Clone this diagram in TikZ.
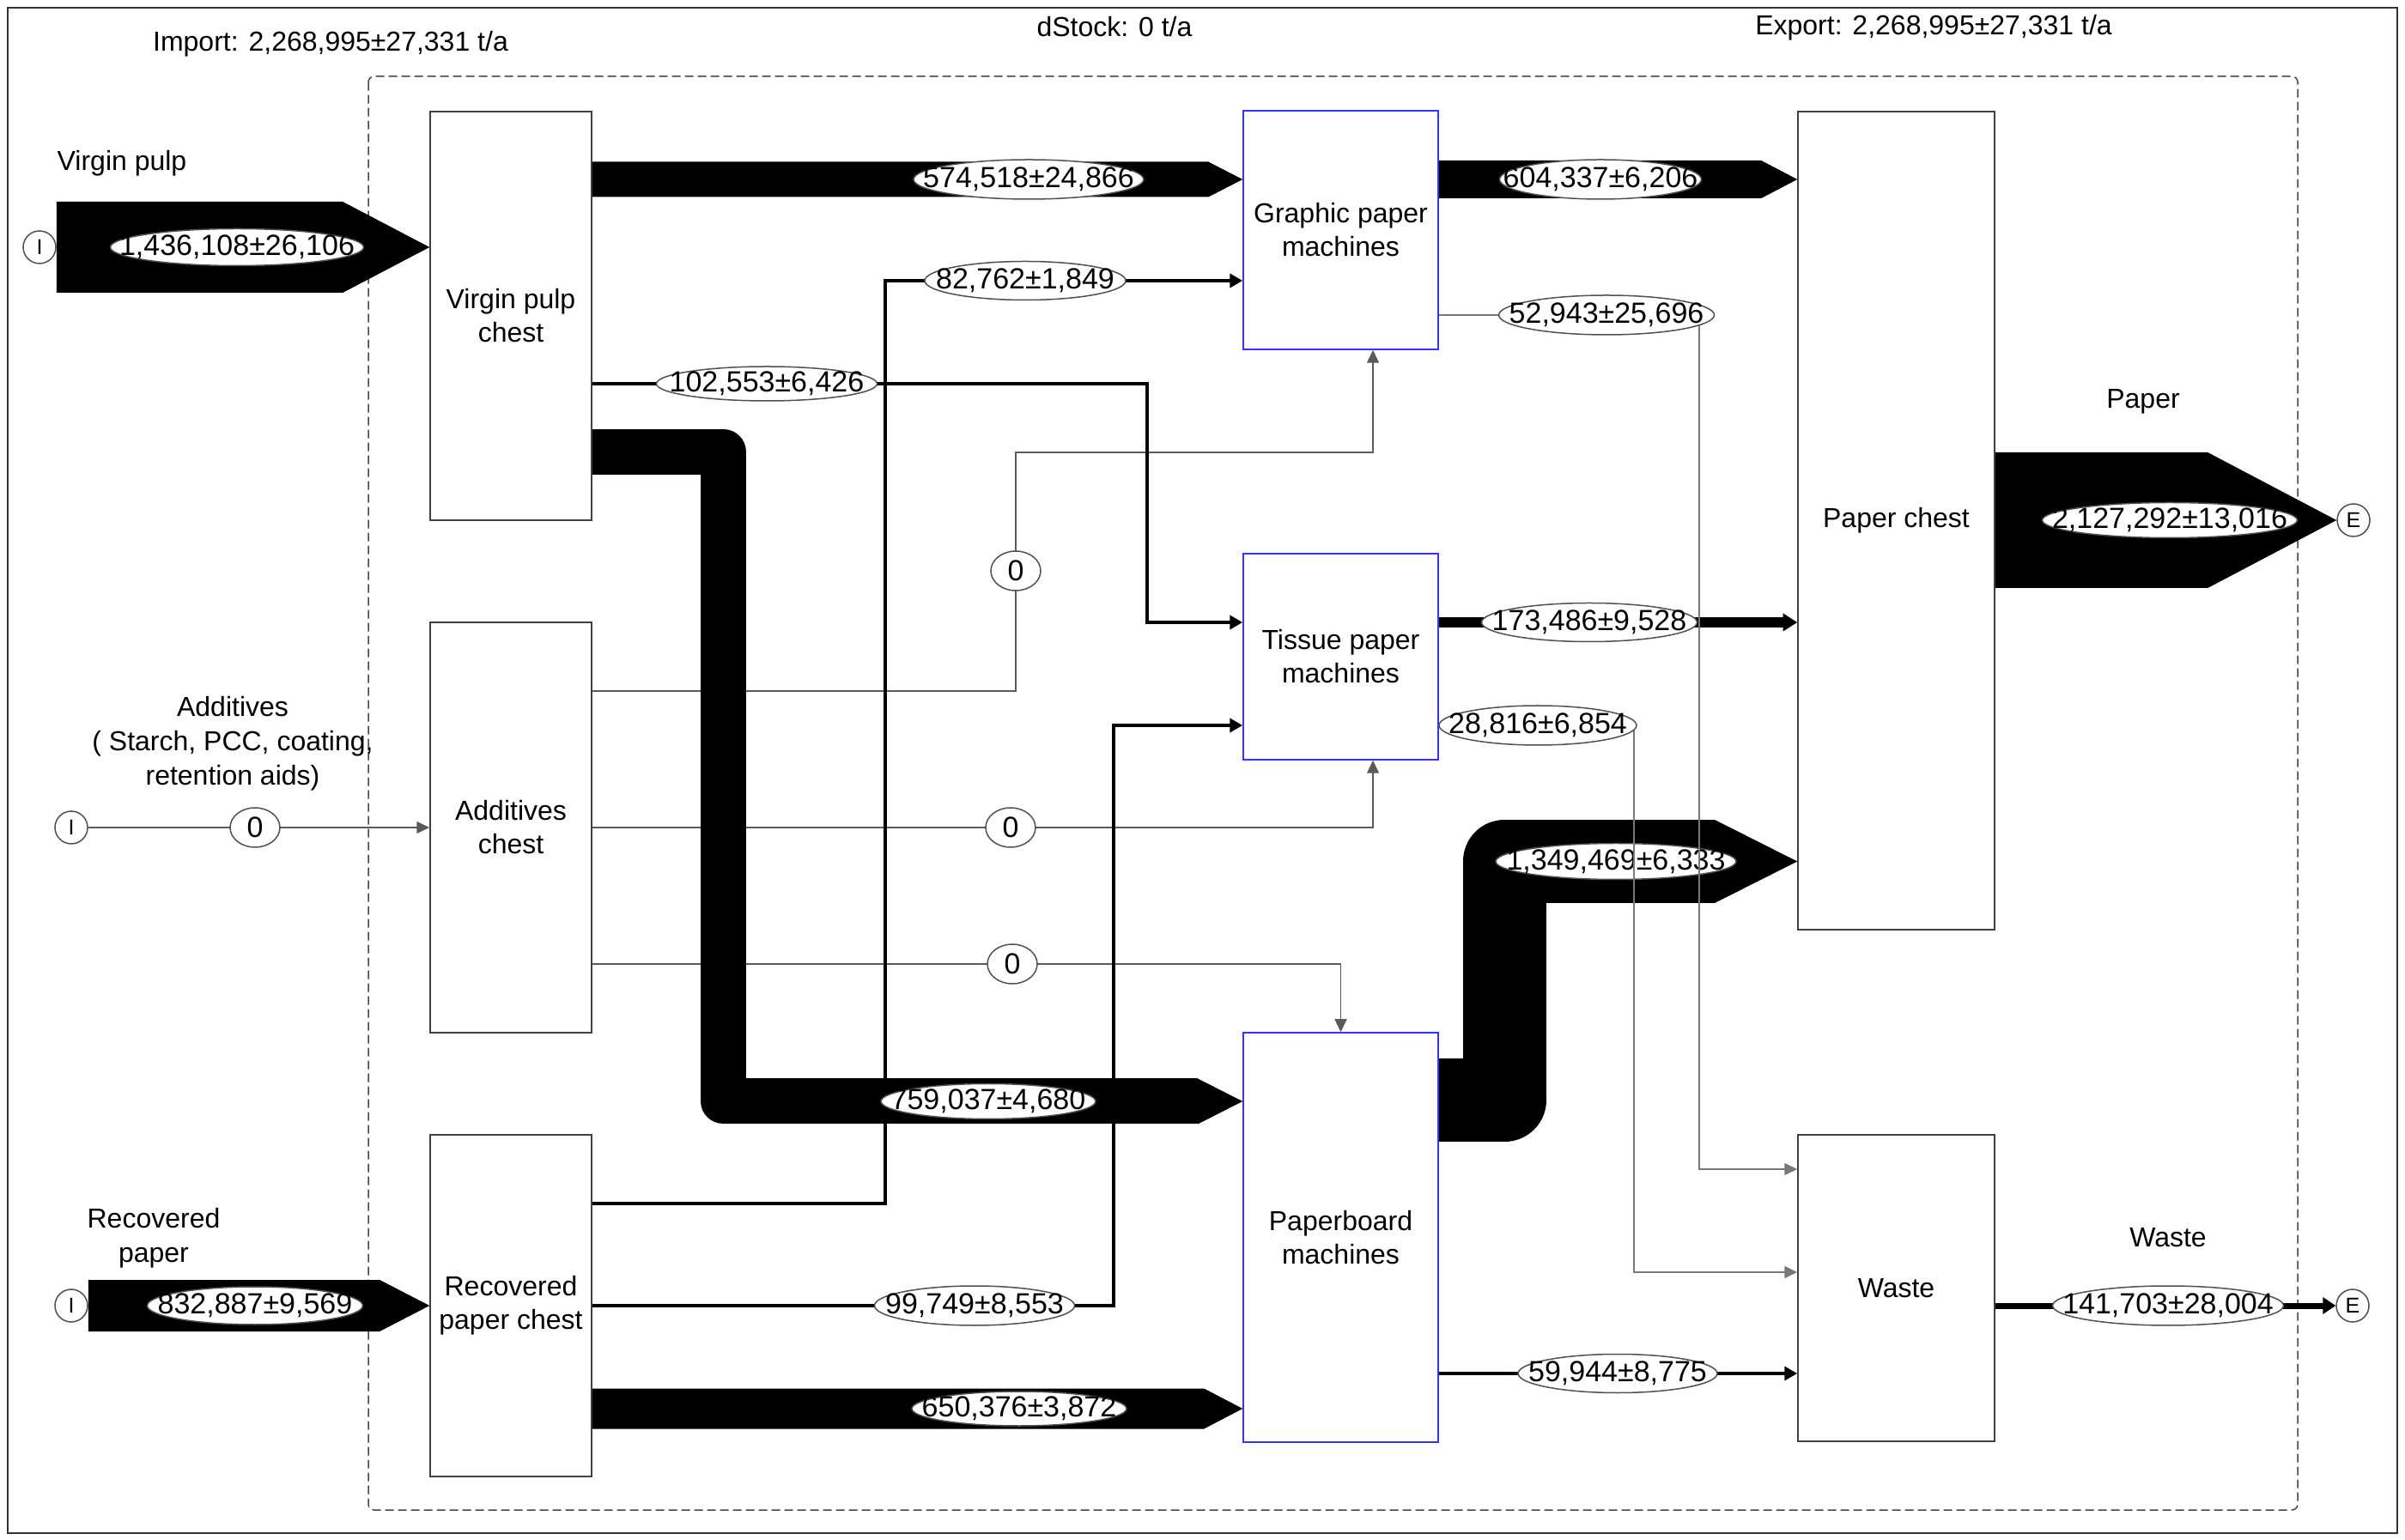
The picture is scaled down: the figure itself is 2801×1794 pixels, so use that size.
\documentclass[tikz,border=0pt]{standalone}
\usepackage{fontspec}
\setmainfont{Liberation Sans}
\usetikzlibrary{arrows.meta,calc,shapes.geometric}

\tikzset{every picture/.style={line width=0.45pt}}
\tikzset{
  txt/.style={font=\fontsize{9.6}{11.7}\selectfont, align=center, inner sep=0pt},
  num/.style={font=\fontsize{10.2}{12}\selectfont, inner sep=0pt},
  chest/.style={txt, draw={rgb,255:red,64;green,64;blue,64}, fill=white, minimum width=56.4pt},
  machine/.style={txt, draw={rgb,255:red,51;green,51;blue,255}, fill=white, minimum width=68.1pt},
  val/.style 2 args={ellipse, draw={rgb,255:red,80;green,80;blue,80}, fill=white, inner sep=0pt, minimum width=#1, minimum height=#2},
  nil/.style={ellipse, draw={rgb,255:red,80;green,80;blue,80}, fill=white, inner sep=0pt, minimum width=17.4pt, minimum height=13.8pt, font=\fontsize{10.2}{12}\selectfont},
  io/.style={circle, draw={rgb,255:red,80;green,80;blue,80}, fill=white, inner sep=0pt, minimum size=11.4pt, font=\fontsize{7.5}{9}\selectfont},
  zeroflow/.style={draw={rgb,255:red,90;green,90;blue,90}, -{Triangle[length=4.5pt,width=4.2pt]}},
  mainflow/.style={line width=1.2pt, -{Triangle[length=4.5pt,width=4.8pt]}},
  lossflow/.style={draw={rgb,255:red,120;green,120;blue,120}, -{Triangle[length=4.5pt,width=4.2pt]}},
}
% wide arrow: start, tip, half width, head length
\newcommand{\flowband}[4]{%
  \fill (#1) -- ($(#1)+(0,#3)$) -- ($(#2)+(-#4,#3)$) -- (#2) -- ($(#2)+(-#4,-#3)$) -- ($(#1)+(0,-#3)$) -- cycle;}

\begin{document}
\begin{tikzpicture}[x=0.3pt,y=0.3pt,yscale=-1,xscale=1]
\useasboundingbox (0,0) rectangle (2801,1794);

%Frame
\draw [draw={rgb,255:red,50;green,50;blue,50}] (9,9) rectangle (2792,1786);
%System boundary
\draw [dash pattern=on 3pt off 1.5pt, rounded corners=2pt, draw={rgb,255:red,70;green,70;blue,70}] (429,89) rectangle (2676,1759);

% Text Node
\node [txt] (imp) at (385,51) {Import: 2,268,995±27,331 t/a};
\node [txt] (dst) at (1298,31) {dStock: 0 t/a};
\node [txt] (exp) at (2252,32) {Export: 2,268,995±27,331 t/a};
\node [txt] (lvp) at (142,190) {Virgin pulp};
\node [txt, font=\fontsize{9.6}{12}\selectfont] (ladd) at (271,866) {Additives\\( Starch, PCC, coating,\\retention aids)};
\node [txt, font=\fontsize{9.6}{12}\selectfont] (lrp) at (179,1442) {Recovered\\paper};
\node [txt] (lpap) at (2496,468) {Paper};
\node [txt] (lwst) at (2525,1442) {Waste};

%Processes
\node [chest, minimum height=142.8pt] (vpc) at (595,368) {Virgin pulp\\chest};
\node [chest, minimum height=143.4pt] (add) at (595,964) {Additives\\chest};
\node [chest, minimum height=119.4pt] (rpc) at (595,1521) {Recovered\\paper chest};
\node [machine, minimum height=83.4pt] (gpm) at (1561.5,268) {Graphic paper\\machines};
\node [machine, minimum height=72pt] (tpm) at (1561.5,765) {Tissue paper\\machines};
\node [machine, minimum height=143.1pt] (pbm) at (1561.5,1441.5) {Paperboard\\machines};
\node [chest, minimum width=68.7pt, minimum height=285.9pt] (pch) at (2208.5,606.5) {Paper chest};
\node [chest, minimum width=68.7pt, minimum height=107.1pt] (wst) at (2208.5,1500.5) {Waste};

%Import / export
\node [io] (iV) at (46,288) {I};
\node [io] (iA) at (83,964) {I};
\node [io] (iR) at (83,1521) {I};
\node [io] (eP) at (2741,606) {E};
\node [io] (eW) at (2740,1521) {E};

%Straight Lines (zero flows)
\draw [zeroflow] (iA) -- (add.west);
\draw [zeroflow] (add.east |- 0,805) -| (1183,527) -| (gpm.south -| 1599,0);
\draw [zeroflow] (add.east) -| (tpm.south -| 1599,0);
\draw [zeroflow] (add.east |- 0,1123) -| (pbm.north);

%Straight Lines (main flows)
\draw [mainflow] (vpc.east |- 0,447) -| (1336,725) -- (tpm.west |- 0,725);
\draw [mainflow] (rpc.east |- 0,1402) -| (1031,327) -- (gpm.west |- 0,327);
\draw [mainflow] (rpc.east |- 0,1521) -| (1297,845) -- (tpm.west |- 0,845);
\draw [mainflow] (pbm.east |- 0,1600) -- (wst.west |- 0,1600);
\draw [line width=3.6pt, -{Triangle[length=5pt,width=6pt]}] (tpm.east |- 0,725) -- (pch.west |- 0,725);
\draw [line width=2.1pt, -{Triangle[length=4.5pt,width=5.7pt]}] (wst.east |- eW) -- (eW);

%Wide arrows
\flowband{iV.east}{vpc.west |- iV}{53}{101}
\flowband{iR.east}{rpc.west |- iR}{30}{58}
\flowband{vpc.east |- 0,209}{gpm.west |- 0,209}{20.5}{40}
\flowband{gpm.east |- 0,209}{pch.west |- 0,209}{22}{42}
\flowband{rpc.east |- 0,1641}{pbm.west |- 0,1641}{23.5}{45}
\flowband{pch.east |- eP}{eP.west}{79}{150}
\draw [line width=15.9pt, line join=round] (vpc.east |- 0,526.5) -| (842.5,1283) -- (1395,1283);
\fill (1395,1256.5) -- (pbm.west |- 0,1283) -- (1395,1309.5) -- cycle;
\draw [line width=29.1pt, line join=round] (pbm.east |- 0,1282) -| (1752,1003.5) -- (1997,1003.5);
\fill (1997,955) -- (pch.west |- 0,1003.5) -- (1997,1052) -- cycle;
\node [val={84pt}{12.6pt}, label={[num]center:1,349,469±6,333}] (v1349) at (1882,1003.5) {};

%Losses
\draw [lossflow] (gpm.east |- 0,367) -| (1979,1362) -- (wst.west |- 0,1362);
\draw [lossflow] (tpm.east |- 0,845) -| (1903,1482) -- (wst.west |- 0,1482);

%Values
\node [val={88.5pt}{12.9pt}, label={[num]center:1,436,108±26,106}] (v1436) at (276,288) {};
\node [val={75.3pt}{13.2pt}, label={[num]center:832,887±9,569}] (v832) at (297,1521) {};
\node [val={80.4pt}{13.8pt}, label={[num]center:574,518±24,866}] (v574) at (1198,209) {};
\node [val={70.5pt}{13.8pt}, label={[num]center:604,337±6,206}] (v604) at (1864,209) {};
\node [val={70.2pt}{13.5pt}, label={[num]center:82,762±1,849}] (v82) at (1194,327) {};
\node [val={77.1pt}{12pt}, label={[num]center:102,553±6,426}] (v102) at (893,447) {};
\node [val={75.3pt}{13.8pt}, label={[num]center:52,943±25,696}] (v52) at (1871,367) {};
\node [val={75.3pt}{13.5pt}, label={[num]center:173,486±9,528}] (v173) at (1851,725) {};
\node [val={69pt}{13.8pt}, label={[num]center:28,816±6,854}] (v28) at (1791,845) {};
\node [val={75pt}{12.3pt}, label={[num]center:759,037±4,680}] (v759) at (1151,1283) {};
\node [val={69.9pt}{13.8pt}, label={[num]center:99,749±8,553}] (v99) at (1135,1521) {};
\node [val={75pt}{12pt}, label={[num]center:650,376±3,872}] (v650) at (1187,1641) {};
\node [val={69.6pt}{13.5pt}, label={[num]center:59,944±8,775}] (v59) at (1884,1600) {};
\node [val={89.1pt}{12.3pt}, label={[num]center:2,127,292±13,016}] (v2127) at (2527,606) {};
\node [val={80.7pt}{13.8pt}, label={[num]center:141,703±28,004}] (v141) at (2525,1521) {};
\node [nil] (z0) at (297,964) {0};
\node [nil] (z1) at (1183,665) {0};
\node [nil] (z2) at (1177,964) {0};
\node [nil] (z3) at (1179,1123) {0};

\end{tikzpicture}
\end{document}
